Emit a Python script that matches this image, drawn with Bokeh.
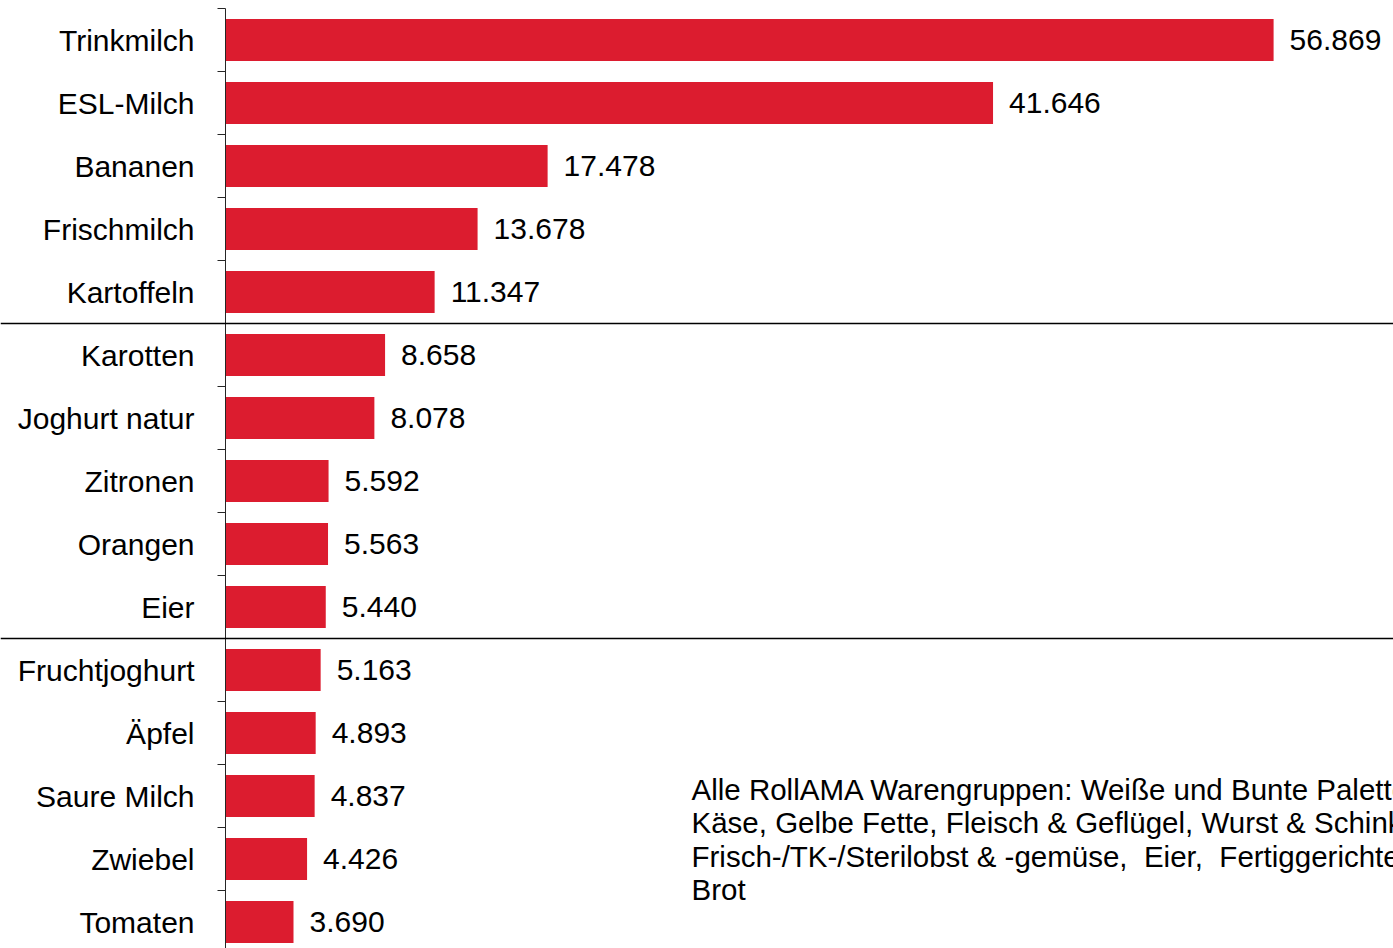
import math
from bokeh.plotting import figure
from bokeh.models import ColumnDataSource, Range1d, Span, Label
from bokeh.core.properties import value
from bokeh.embed import file_html
from bokeh.resources import INLINE

categories = ["Trinkmilch", "ESL-Milch", "Bananen", "Frischmilch", "Kartoffeln",
              "Karotten", "Joghurt natur", "Zitronen", "Orangen", "Eier",
              "Fruchtjoghurt", "Äpfel", "Saure Milch", "Zwiebel", "Tomaten"]
values = [56.869, 41.646, 17.478, 13.678, 11.347,
          8.658, 8.078, 5.592, 5.563, 5.440,
          5.163, 4.893, 4.837, 4.426, 3.690]
group_breaks = [4.5, 9.5]
note_lines = ["Alle RollAMA Warengruppen: Weiße und Bunte Palette,",
              "Käse, Gelbe Fette, Fleisch & Geflügel, Wurst & Schinken,",
              "Frisch-/TK-/Sterilobst & -gemüse,\u00a0 Eier,\u00a0 Fertiggerichte,",
              "Brot"]

FONT = "Liberation Sans"
W, H = 1393, 948
PX_PER_UNIT = 18.43
ROW = 63.0
AXIS_X = 225   # px from figure left
TOP_PAD = 8    # px above first category boundary

pos = list(range(len(categories)))
src = ColumnDataSource(dict(
    y=pos, v=values, cat=categories,
    lab=[f"{v:.3f}" for v in values],
    zero=[0] * len(values),
))

y_top = -0.5 - TOP_PAD / ROW
p = figure(width=W, height=H, output_backend="svg", toolbar_location=None,
           x_range=Range1d(-AXIS_X / PX_PER_UNIT, (W - AXIS_X) / PX_PER_UNIT),
           y_range=Range1d(y_top + H / ROW, y_top),
           min_border=0, min_border_left=0, min_border_right=0,
           min_border_top=0, min_border_bottom=0)
p.xaxis.visible = False
p.yaxis.visible = False
p.grid.visible = False
p.outline_line_color = None
p.background_fill_color = "white"
p.border_fill_color = "white"

p.hbar(y="y", left=0, right="v", height=0.67, source=src,
       fill_color="#DC1C2F", line_color=None)

# value labels
p.text(x="v", y="y", text="lab", source=src, x_offset=16,
       text_align="left", text_baseline="middle",
       text_font=value(FONT), text_font_size="30px", text_color="black")

# category labels
p.text(x="zero", y="y", text="cat", source=src, x_offset=-31,
       text_align="right", text_baseline="middle",
       text_font=value(FONT), text_font_size="30px", text_color="black")

# axis line (from first boundary downwards) and ticks at category boundaries
bounds = [i - 0.5 for i in range(len(categories) + 1)]
p.segment(x0=[0], y0=[bounds[0]], x1=[0], y1=[bounds[-1]],
          line_color="#262626", line_width=1)
p.ray(x=[0] * len(bounds), y=bounds, length=8, length_units="screen",
      angle=math.pi, line_color="#262626", line_width=1)

# group separator lines
for b in group_breaks:
    p.add_layout(Span(location=b, dimension="width", line_color="black", line_width=1.5))

# note text
note = Label(x=(691 - AXIS_X) / PX_PER_UNIT, y=y_top + 772 / ROW,
             text="\n".join(note_lines), text_font=FONT, text_font_size="29.5px",
             text_align="left", text_baseline="top", text_line_height=1.02,
             text_color="black")
p.add_layout(note)

open("out.html", "w").write(file_html(p, INLINE))
